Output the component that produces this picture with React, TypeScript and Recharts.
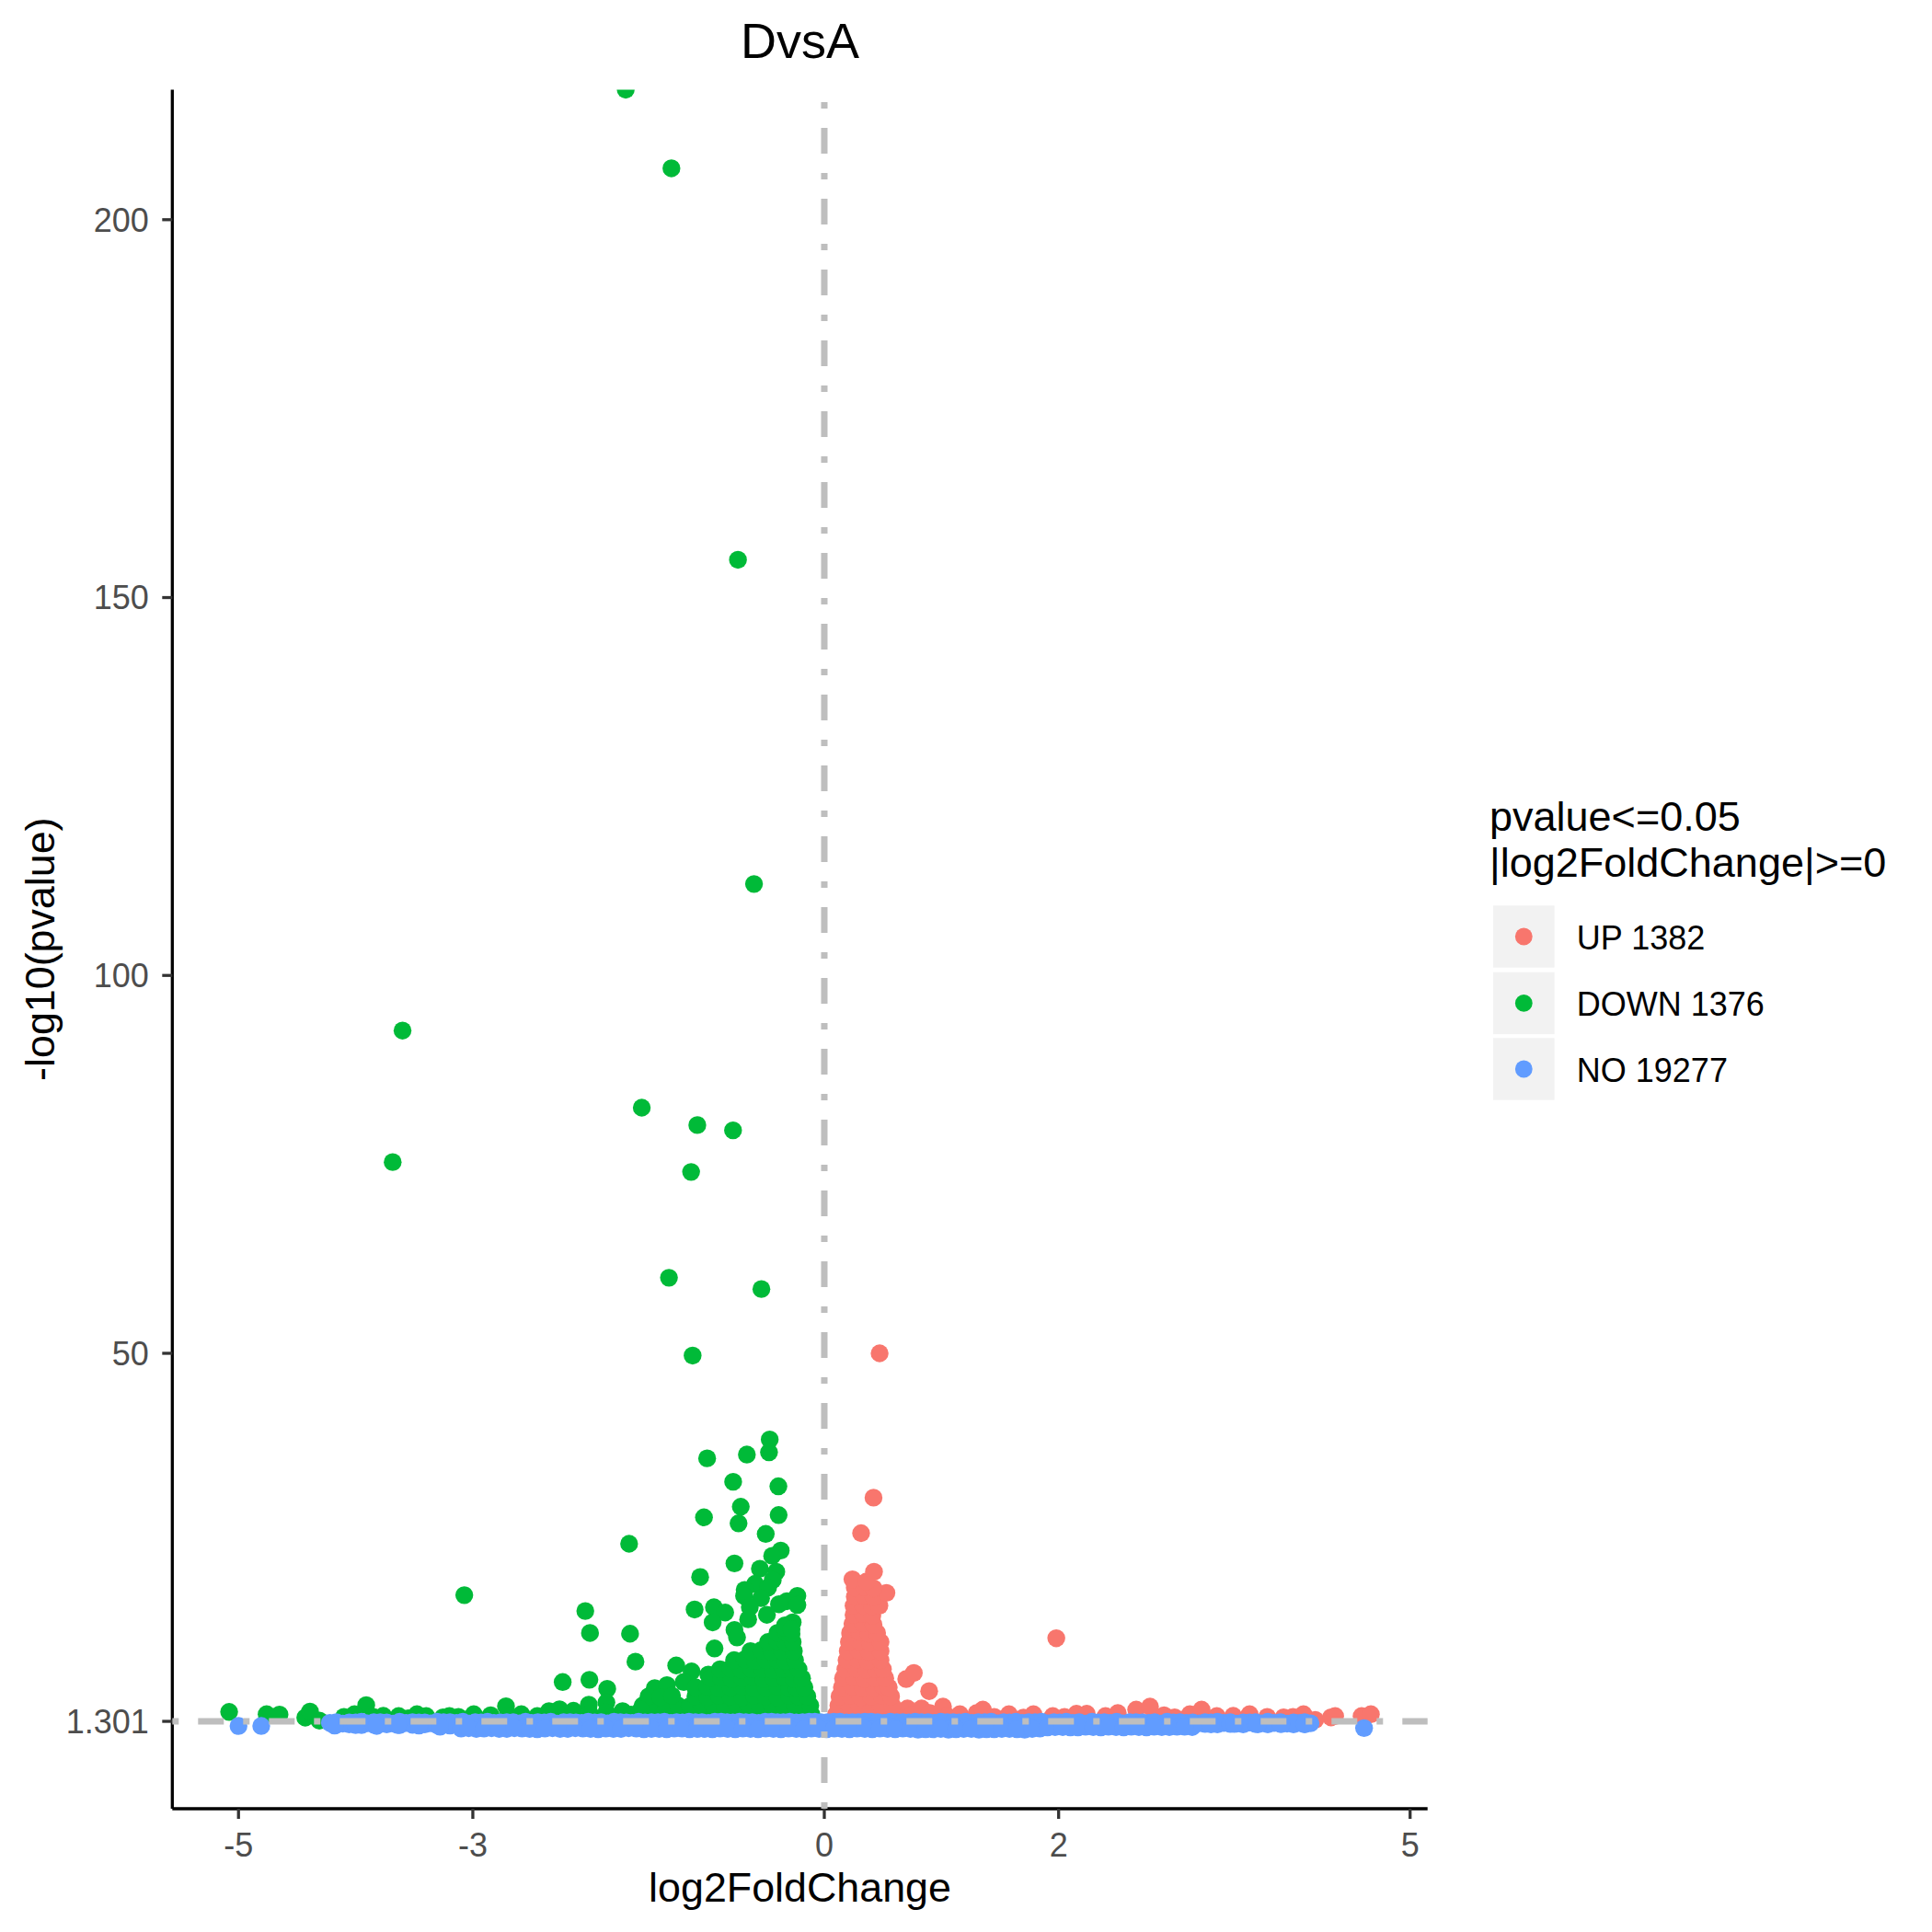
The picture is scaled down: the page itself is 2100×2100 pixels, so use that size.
import React from 'react';
import { ScatterChart, Scatter, XAxis, YAxis, ReferenceLine, Legend } from 'recharts';

type Pt = [number, number];

// Genes with pvalue <= 0.05 and negative log2FoldChange: [log2FoldChange, -log10(pvalue)]
const downGenes: Pt[] = [
  [-1.695, 217.2], [-1.305, 206.8], [-0.737, 155.0], [-0.6, 112.1],
  [-3.6, 92.7], [-1.558, 82.5], [-1.084, 80.2], [-0.779, 79.5],
  [-3.684, 75.3], [-1.137, 74.0], [-1.326, 60.0], [-0.537, 58.5], [-1.124, 49.7],
  [-0.466, 38.6], [-0.472, 36.9], [-0.661, 36.6], [-1.0, 36.1], [-0.778, 33.0],
  [-0.392, 32.4], [-0.713, 29.7], [-1.027, 28.3], [-0.39, 28.6], [-0.732, 27.5],
  [-0.5, 26.1], [-1.666, 24.8], [-0.372, 23.9], [-0.445, 23.2], [-0.767, 22.2],
  [-0.55, 21.5], [-0.41, 21.1], [-1.06, 20.4], [-0.44, 20.0], [-0.59, 19.5],
  [-0.68, 18.7], [-0.48, 19.0], [-0.685, 17.9], [-0.54, 17.6], [-0.32, 17.2],
  [-0.23, 17.9], [-0.23, 16.7], [-0.387, 16.8], [-0.636, 16.4], [-3.073, 18.0],
  [-2.04, 15.9], [-2.0, 13.0], [-1.658, 12.9], [-1.612, 9.2], [-1.107, 16.1],
  [-0.942, 16.4], [-0.846, 15.7], [-0.953, 14.4], [-0.65, 14.8], [-0.49, 15.4],
  [-0.767, 13.4], [-0.745, 12.4], [-0.335, 14.0], [-0.27, 14.4], [-0.937, 10.95],
  [-1.264, 8.7], [-1.133, 7.9], [-0.963, 6.9], [-1.447, 5.7], [-1.343, 6.1],
  [-1.2, 6.5], [-1.09, 5.3], [-0.99, 7.5], [-2.233, 6.5], [-2.005, 6.8], [-1.853, 5.6],
  [-2.01, 3.5], [-1.86, 3.8], [-2.717, 3.3], [-2.26, 2.9], [-3.91, 3.45],
  // dense body near zero
  [-1.6, 2.2], [-1.5, 2.3], [-1.4, 2.1], [-1.3, 2.2], [-1.2, 2.3], [-1.1, 2.1],
  [-1.0, 2.2], [-0.9, 2.3], [-0.8, 2.1], [-0.7, 2.2], [-0.6, 2.3], [-0.5, 2.1],
  [-0.4, 2.2], [-0.3, 2.3], [-0.2, 2.1], [-0.11, 2.2],
  [-1.55, 3.4], [-1.45, 3.3], [-1.35, 3.5], [-1.25, 3.4], [-1.15, 3.3], [-1.05, 3.5],
  [-0.95, 3.4], [-0.85, 3.3], [-0.75, 3.5], [-0.65, 3.4], [-0.55, 3.3], [-0.45, 3.5],
  [-0.35, 3.4], [-0.25, 3.3], [-0.12, 3.4],
  [-1.5, 4.6], [-1.4, 4.5], [-1.3, 4.7], [-1.1, 4.6], [-1.0, 4.5], [-0.9, 4.7],
  [-0.8, 4.6], [-0.7, 4.5], [-0.6, 4.7], [-0.5, 4.6], [-0.4, 4.5], [-0.3, 4.7],
  [-0.22, 4.6], [-0.145, 4.6],
  [-1.1, 5.8], [-1.0, 5.9], [-0.9, 5.7], [-0.8, 5.8], [-0.7, 5.9], [-0.6, 5.7],
  [-0.5, 5.8], [-0.4, 5.9], [-0.3, 5.7], [-0.24, 5.8], [-0.17, 5.8],
  [-0.97, 7.0], [-0.88, 7.1], [-0.79, 6.9], [-0.7, 7.0], [-0.61, 7.1], [-0.52, 6.9],
  [-0.43, 7.0], [-0.34, 7.1], [-0.26, 6.9], [-0.19, 7.0],
  [-0.89, 8.2], [-0.8, 8.3], [-0.71, 8.1], [-0.62, 8.2], [-0.53, 8.3], [-0.44, 8.1],
  [-0.35, 8.2], [-0.28, 8.3], [-0.22, 8.2],
  [-0.77, 9.4], [-0.68, 9.5], [-0.59, 9.3], [-0.5, 9.4], [-0.41, 9.5], [-0.33, 9.3],
  [-0.25, 9.4],
  [-0.63, 10.6], [-0.54, 10.7], [-0.45, 10.5], [-0.36, 10.6], [-0.26, 10.6],
  [-0.48, 11.8], [-0.4, 11.9], [-0.33, 11.7], [-0.27, 11.8],
  [-0.4, 13.0], [-0.33, 13.1], [-0.28, 12.9], [-0.34, 13.7], [-0.28, 13.5],
  // low band along the negative side
  [-5.08, 2.55], [-4.76, 2.24], [-4.65, 2.2], [-4.43, 1.8], [-4.39, 2.6], [-4.31, 1.4],
  [-4.1, 1.9], [-4.01, 2.24], [-3.85, 1.9], [-3.764, 2.03], [-3.633, 2.0], [-3.55, 1.7],
  [-3.477, 2.24], [-3.398, 2.0], [-3.254, 1.83], [-3.2, 2.0], [-3.123, 1.9], [-2.992, 2.24],
  [-2.848, 2.1], [-2.7, 2.0], [-2.586, 2.24], [-2.45, 2.0], [-2.35, 2.65], [-2.2, 2.2],
  [-2.141, 2.7], [-2.0, 2.3], [-1.86, 2.5], [-1.722, 2.65], [-1.65, 2.2], [-1.565, 2.85],
];

// Genes with pvalue <= 0.05 and positive log2FoldChange
const upGenes: Pt[] = [
  [0.472, 50.0], [0.42, 30.9], [0.314, 26.2], [1.98, 12.3],
  [0.699, 6.9], [0.764, 7.7], [0.895, 5.3], [1.013, 3.25], [0.83, 3.0], [0.71, 3.0],
  // dense body near zero
  [0.1, 2.2], [0.2, 2.3], [0.3, 2.1], [0.4, 2.2], [0.5, 2.3], [0.6, 2.1],
  [0.12, 3.4], [0.21, 3.5], [0.3, 3.3], [0.39, 3.4], [0.48, 3.5], [0.58, 3.4],
  [0.13, 4.6], [0.22, 4.7], [0.31, 4.5], [0.4, 4.6], [0.49, 4.7], [0.57, 4.6],
  [0.15, 5.8], [0.24, 5.9], [0.33, 5.7], [0.42, 5.8], [0.5, 5.9], [0.55, 5.8],
  [0.16, 7.0], [0.25, 7.1], [0.34, 6.9], [0.43, 7.0], [0.52, 7.0],
  [0.18, 8.2], [0.27, 8.3], [0.36, 8.1], [0.44, 8.2], [0.5, 8.2],
  [0.19, 9.4], [0.28, 9.5], [0.37, 9.3], [0.48, 9.4],
  [0.2, 10.6], [0.29, 10.7], [0.38, 10.5], [0.48, 10.6],
  [0.21, 11.8], [0.3, 11.9], [0.39, 11.7], [0.48, 11.8],
  [0.22, 13.0], [0.3, 13.1], [0.38, 12.9], [0.45, 13.0],
  [0.24, 14.2], [0.33, 14.3], [0.42, 14.1],
  [0.25, 15.4], [0.33, 15.5], [0.41, 15.3],
  [0.25, 16.6], [0.33, 16.7], [0.41, 16.5], [0.47, 16.6],
  [0.26, 17.8], [0.34, 17.9], [0.42, 17.7], [0.53, 18.3],
  [0.26, 19.0], [0.34, 19.1], [0.42, 18.9],
  [0.24, 20.1], [0.36, 19.8], [0.424, 21.1],
  // low band along the positive side
  [0.75, 2.2], [0.9, 2.4], [1.05, 2.0], [1.157, 2.24], [1.3, 2.4], [1.353, 2.85],
  [1.45, 1.9], [1.576, 2.24], [1.7, 1.8], [1.785, 2.24], [1.95, 2.0], [2.05, 1.9],
  [2.152, 2.3], [2.24, 2.3], [2.4, 2.0], [2.505, 2.4], [2.662, 2.85], [2.78, 3.25],
  [2.9, 2.1], [2.99, 1.83], [3.12, 2.24], [3.22, 2.85], [3.35, 2.0], [3.49, 2.03],
  [3.63, 2.24], [3.78, 1.9], [3.92, 1.83], [4.0, 1.9], [4.09, 2.24], [4.19, 1.5],
  [4.325, 1.83], [4.36, 2.0], [4.586, 2.0], [4.665, 2.24],
];

// Genes that are not significant (pvalue > 0.05)
const noGenes: Pt[] = [
  [-5.0, 0.69], [-4.806, 0.69], [4.607, 0.41],
  // upper row
  [-4.22, 1.1], [-4.11, 1.0], [-4.0, 1.15], [-3.9, 1.05], [-3.79, 1.2], [-3.68, 1.0],
  [-3.57, 1.1], [-3.46, 1.15], [-3.36, 1.05], [-3.25, 1.2], [-3.14, 1.1], [-3.03, 1.0],
  [-2.93, 1.15], [-2.82, 1.1], [-2.71, 1.2], [-2.6, 1.05], [-2.5, 1.1], [-2.39, 1.15],
  [-2.28, 1.0], [-2.17, 1.2], [-2.07, 1.1], [-1.96, 1.15], [-1.85, 1.05], [-1.74, 1.2],
  [-1.64, 1.1], [-1.53, 1.15], [-1.42, 1.2], [-1.31, 1.1], [-1.21, 1.15], [-1.1, 1.2],
  [-0.99, 1.1], [-0.88, 1.25], [-0.78, 1.15], [-0.67, 1.2], [-0.56, 1.1], [-0.45, 1.25],
  [-0.35, 1.2], [-0.24, 1.15], [-0.13, 1.25], [-0.03, 1.2], [0.08, 1.25], [0.19, 1.15],
  [0.29, 1.2], [0.4, 1.25], [0.51, 1.1], [0.62, 1.2], [0.72, 1.15], [0.83, 1.2],
  [0.94, 1.1], [1.05, 1.2], [1.15, 1.15], [1.26, 1.1], [1.37, 1.2], [1.48, 1.05],
  [1.58, 1.15], [1.69, 1.1], [1.8, 1.2], [1.91, 1.05], [2.01, 1.15], [2.12, 1.1],
  [2.23, 1.0], [2.34, 1.15], [2.44, 1.1], [2.55, 1.05], [2.66, 1.2], [2.77, 1.1],
  [2.87, 1.0], [2.98, 1.15], [3.09, 1.1], [3.2, 1.05], [3.3, 1.15], [3.41, 1.1],
  [3.52, 1.0], [3.63, 1.15], [3.73, 1.05], [3.84, 1.1], [3.95, 1.0], [4.06, 1.1],
  [4.15, 1.05],
  // upper row, staggered
  [-4.165, 1.2], [-4.055, 1.15], [-3.95, 1.25], [-3.845, 1.2], [-3.735, 1.15], [-3.625, 1.25],
  [-3.515, 1.2], [-3.41, 1.15], [-3.305, 1.25], [-3.195, 1.2], [-3.085, 1.25], [-2.98, 1.2],
  [-2.875, 1.25], [-2.765, 1.15], [-2.655, 1.2], [-2.55, 1.25], [-2.445, 1.2], [-2.335, 1.25],
  [-2.225, 1.2], [-2.12, 1.15], [-2.015, 1.25], [-1.905, 1.2], [-1.795, 1.25], [-1.69, 1.15],
  [-1.585, 1.25], [-1.475, 1.2], [-1.365, 1.25], [-1.26, 1.2], [-1.155, 1.25], [-1.045, 1.2],
  [-0.935, 1.25], [-0.83, 1.2], [-0.725, 1.25], [-0.615, 1.2], [-0.505, 1.25], [-0.4, 1.2],
  [-0.295, 1.25], [-0.185, 1.2], [-0.08, 1.25], [0.025, 1.2], [0.135, 1.25], [0.24, 1.2],
  [0.345, 1.25], [0.455, 1.2], [0.565, 1.25], [0.67, 1.2], [0.775, 1.25], [0.885, 1.2],
  [0.995, 1.25], [1.1, 1.2], [1.205, 1.25], [1.315, 1.2], [1.425, 1.25], [1.53, 1.2],
  [1.635, 1.25], [1.745, 1.2], [1.855, 1.25], [1.96, 1.2], [2.065, 1.25], [2.175, 1.2],
  [2.285, 1.25], [2.39, 1.2], [2.495, 1.25], [2.605, 1.2], [2.715, 1.15], [2.82, 1.2],
  [2.925, 1.25], [3.035, 1.2], [3.145, 1.15], [3.25, 1.2], [3.355, 1.25], [3.465, 1.2],
  [3.575, 1.15], [3.68, 1.2], [3.785, 1.25], [3.895, 1.2], [4.005, 1.15], [4.1, 1.2],
  // middle row
  [-4.165, 0.85], [-4.055, 0.9], [-3.95, 0.8], [-3.845, 0.85], [-3.735, 0.9], [-3.625, 0.8],
  [-3.515, 0.85], [-3.41, 0.9], [-3.305, 0.8], [-3.195, 0.75], [-3.085, 0.7], [-2.98, 0.65],
  [-2.875, 0.75], [-2.765, 0.7], [-2.655, 0.6], [-2.55, 0.7], [-2.445, 0.75], [-2.335, 0.65],
  [-2.225, 0.7], [-2.12, 0.6], [-2.015, 0.75], [-1.905, 0.7], [-1.795, 0.65], [-1.69, 0.75],
  [-1.585, 0.7], [-1.475, 0.6], [-1.365, 0.7], [-1.26, 0.75], [-1.155, 0.65], [-1.045, 0.7],
  [-0.935, 0.6], [-0.83, 0.75], [-0.725, 0.7], [-0.615, 0.65], [-0.505, 0.75], [-0.4, 0.7],
  [-0.295, 0.6], [-0.185, 0.7], [-0.08, 0.75], [0.025, 0.65], [0.135, 0.7], [0.24, 0.6],
  [0.345, 0.75], [0.455, 0.7], [0.565, 0.65], [0.67, 0.75], [0.775, 0.7], [0.885, 0.6],
  [0.995, 0.7], [1.1, 0.75], [1.205, 0.65], [1.315, 0.7], [1.425, 0.6], [1.53, 0.75],
  [1.635, 0.7], [1.745, 0.65], [1.855, 0.75], [1.96, 0.8], [2.065, 0.85], [2.175, 0.75],
  [2.285, 0.8], [2.39, 0.85], [2.495, 0.8], [2.605, 0.75], [2.715, 0.85], [2.82, 0.8],
  [2.925, 0.85], [3.035, 0.8], [3.145, 0.9], [3.25, 0.95], [3.355, 0.9], [3.465, 0.95],
  [3.575, 0.9], [3.68, 0.95], [3.785, 0.9], [3.895, 0.95], [4.005, 0.9], [4.1, 0.95],
  // lower row
  [-3.1, 0.35], [-2.97, 0.3], [-2.84, 0.4], [-2.71, 0.3], [-2.58, 0.35], [-2.45, 0.25],
  [-2.32, 0.4], [-2.19, 0.3], [-2.06, 0.35], [-1.93, 0.25], [-1.8, 0.3], [-1.67, 0.4],
  [-1.54, 0.25], [-1.41, 0.3], [-1.28, 0.35], [-1.15, 0.25], [-1.02, 0.3], [-0.89, 0.35],
  [-0.76, 0.25], [-0.63, 0.3], [-0.5, 0.35], [-0.37, 0.25], [-0.24, 0.3], [-0.11, 0.35],
  [0.02, 0.25], [0.15, 0.3], [0.28, 0.35], [0.41, 0.25], [0.54, 0.3], [0.67, 0.35],
  [0.8, 0.2], [0.93, 0.25], [1.06, 0.2], [1.19, 0.3], [1.32, 0.2], [1.45, 0.25],
  [1.58, 0.3], [1.71, 0.2], [1.84, 0.35], [1.97, 0.55], [2.1, 0.5], [2.23, 0.6],
  [2.36, 0.5], [2.49, 0.55], [2.62, 0.6], [2.75, 0.5], [2.88, 0.55], [3.01, 0.6],
  [3.14, 0.55],
  // lower row, staggered
  [-3.035, 0.4], [-2.905, 0.35], [-2.775, 0.3], [-2.645, 0.4], [-2.515, 0.3], [-2.385, 0.35],
  [-2.255, 0.3], [-2.125, 0.4], [-1.995, 0.3], [-1.865, 0.35], [-1.735, 0.3], [-1.605, 0.35],
  [-1.475, 0.3], [-1.345, 0.25], [-1.215, 0.35], [-1.085, 0.3], [-0.955, 0.25], [-0.825, 0.3],
  [-0.695, 0.35], [-0.565, 0.25], [-0.435, 0.3], [-0.305, 0.35], [-0.175, 0.25], [-0.045, 0.3],
  [0.085, 0.35], [0.215, 0.25], [0.345, 0.3], [0.475, 0.35], [0.605, 0.25], [0.735, 0.3],
  [0.865, 0.25], [0.995, 0.3], [1.125, 0.25], [1.255, 0.3], [1.385, 0.25], [1.515, 0.3],
  [1.645, 0.25], [1.775, 0.3], [1.905, 0.5], [2.035, 0.55], [2.165, 0.5], [2.295, 0.55],
  [2.425, 0.6], [2.555, 0.5], [2.685, 0.55], [2.815, 0.6], [2.945, 0.55], [3.075, 0.6],
  [-4.18, 0.75], [-4.0, 0.8], [-3.82, 0.7], [-3.64, 0.8], [-3.46, 0.75], [-3.28, 0.6],
  [3.3, 0.9], [3.5, 0.95], [3.7, 0.9], [3.9, 0.95], [4.1, 0.9],
];

const xTicks = [-5, -3, 0, 2, 5];
const yTicks = [1.301, 50, 100, 150, 200];
const pCutoff = 1.301;
const groupLabels = ['UP 1382', 'DOWN 1376', 'NO 19277'];
const groupColors = ['#F8766D', '#00BA38', '#619CFF'];
const legendTitle = ['pvalue<=0.05', '|log2FoldChange|>=0'];

const FONT = '"Liberation Sans", Arial, Helvetica, sans-serif';

const toRows = (pts: Pt[]) => pts.map(([x, y]) => ({ x, y }));

const dot = (fill: string) => (props: any) => (
  <circle cx={props.cx} cy={props.cy} r={9.7} fill={fill} />
);

// Dot-dash guide: horizontal guides run left to right, vertical guides bottom to top,
// so the dash pattern starts at the panel edge.
const guideLine = (props: any) => {
  const { x1, y1, x2, y2 } = props;
  const horizontal = Math.abs(y1 - y2) < 1e-6;
  const forward = horizontal ? x1 <= x2 : y1 >= y2;
  const [sx, sy, ex, ey] = forward ? [x1, y1, x2, y2] : [x2, y2, x1, y1];
  return (
    <line
      x1={sx}
      y1={sy}
      x2={ex}
      y2={ey}
      stroke="#BEBEBE"
      strokeWidth={7}
      strokeDasharray="7 21 28 21"
    />
  );
};

const LegendBox = () => (
  <svg width={500} height={360} style={{ overflow: 'visible' }}>
    <g fontFamily={FONT} fill="#000">
      <text x={19} y={53.3} fontSize={45}>{legendTitle[0]}</text>
      <text x={19} y={103.3} fontSize={45}>{legendTitle[1]}</text>
      {groupLabels.map((lab, i) => {
        const top = [134.3, 206.7, 278.3][i];
        return (
          <g key={lab}>
            <rect x={23} y={top} width={66.6} height={67.4} fill="#F2F2F2" />
            <circle cx={56.3} cy={top + 33.7} r={9.4} fill={groupColors[i]} />
            <text x={113.8} y={top + 47.4} fontSize={36}>{lab}</text>
          </g>
        );
      })}
    </g>
  </svg>
);

export default function App() {
  const guideProps: any = { zIndex: 700 };
  return (
    <div style={{ position: 'absolute', left: 0, top: 0, width: 2100, height: 2100, background: '#fff' }}>
      <ScatterChart
        width={2100}
        height={2100}
        margin={{ top: 97.5, right: 548.3, bottom: 34, left: 67.3 }}
      >
        <XAxis
          type="number"
          dataKey="x"
          domain={[-5.565, 5.149]}
          ticks={xTicks}
          allowDataOverflow
          height={100}
          axisLine={{ stroke: '#000', strokeWidth: 3.3 }}
          tickLine={{ stroke: '#333333', strokeWidth: 3.3 }}
          tickSize={11}
          tickMargin={15}
          tick={{ fill: '#4D4D4D', fontSize: 36, fontFamily: FONT }}
        />
        <YAxis
          type="number"
          dataKey="y"
          domain={[-10.26, 217.2]}
          ticks={yTicks}
          allowDataOverflow
          width={120}
          axisLine={{ stroke: '#000', strokeWidth: 3.3 }}
          tickLine={{ stroke: '#333333', strokeWidth: 3.3 }}
          tickSize={11}
          tickMargin={14.5}
          tickFormatter={(v: number) => String(v)}
          tick={{ fill: '#4D4D4D', fontSize: 36, fontFamily: FONT }}
        />
        <Scatter data={toRows(downGenes)} shape={dot(groupColors[1])} isAnimationActive={false} />
        <Scatter data={toRows(upGenes)} shape={dot(groupColors[0])} isAnimationActive={false} />
        <Scatter data={toRows(noGenes)} shape={dot(groupColors[2])} isAnimationActive={false} />
        <ReferenceLine x={0} shape={guideLine} {...guideProps} />
        <ReferenceLine y={pCutoff} shape={guideLine} {...guideProps} />
        <Legend
          layout="vertical"
          align="center"
          verticalAlign="middle"
          content={() => <LegendBox />}
          wrapperStyle={{ left: 1600, top: 850, width: 500, height: 360 }}
        />
        <text x={869.5} y={63} textAnchor="middle" fontFamily={FONT} fontSize={54} fill="#000">DvsA</text>
        <text x={869.5} y={2067} textAnchor="middle" fontFamily={FONT} fontSize={44.8} fill="#000">log2FoldChange</text>
        <text
          x={59}
          y={1031.7}
          textAnchor="middle"
          fontFamily={FONT}
          fontSize={44.8}
          fill="#000"
          transform="rotate(-90 59 1031.7)"
        >
          -log10(pvalue)
        </text>
      </ScatterChart>
    </div>
  );
}
